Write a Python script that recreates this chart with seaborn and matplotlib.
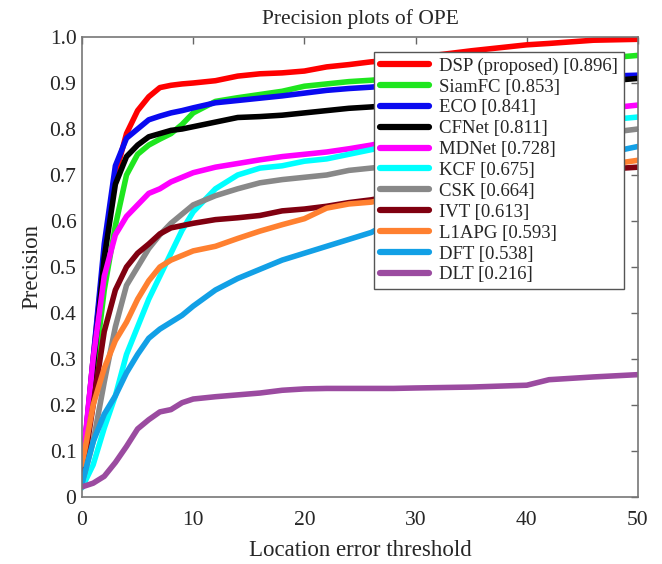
import numpy as np
import pandas as pd
import matplotlib
matplotlib.use("Agg")
import matplotlib.pyplot as plt
import seaborn as sns

# ---- data ----
thresholds = [0, 1, 2, 3, 4, 5, 6, 7, 8, 9, 10, 12, 14, 16, 18, 20, 22, 24, 26, 28, 30, 35, 40, 42, 46, 50]

trackers = ["DSP (proposed) [0.896]", "SiamFC [0.853]", "ECO [0.841]", "CFNet [0.811]",
            "MDNet [0.728]", "KCF [0.675]", "CSK [0.664]", "IVT [0.613]",
            "L1APG [0.593]", "DFT [0.538]", "DLT [0.216]"]

dsp = [0.05, 0.30, 0.53, 0.70, 0.79, 0.84, 0.87, 0.89, 0.895, 0.898, 0.900, 0.905, 0.915, 0.920, 0.922,
       0.926, 0.935, 0.940, 0.946, 0.950, 0.955, 0.970, 0.983, 0.986, 0.993, 0.995]
siamfc = [0.04, 0.25, 0.45, 0.59, 0.70, 0.745, 0.765, 0.778, 0.79, 0.81, 0.835, 0.86, 0.868, 0.875, 0.882,
          0.893, 0.898, 0.903, 0.906, 0.910, 0.915, 0.930, 0.940, 0.944, 0.952, 0.960]
eco = [0.05, 0.30, 0.55, 0.72, 0.78, 0.80, 0.82, 0.828, 0.835, 0.840, 0.846, 0.857, 0.862, 0.867, 0.872,
       0.878, 0.884, 0.888, 0.891, 0.895, 0.898, 0.905, 0.910, 0.911, 0.914, 0.917]
cfnet = [0.04, 0.28, 0.52, 0.68, 0.74, 0.765, 0.783, 0.790, 0.797, 0.800, 0.805, 0.815, 0.825, 0.827, 0.830,
         0.835, 0.840, 0.845, 0.848, 0.852, 0.860, 0.875, 0.890, 0.894, 0.902, 0.910]
mdnet = [0.06, 0.30, 0.48, 0.57, 0.61, 0.635, 0.66, 0.67, 0.685, 0.695, 0.705, 0.717, 0.725, 0.733, 0.740,
         0.745, 0.750, 0.757, 0.765, 0.775, 0.785, 0.805, 0.825, 0.831, 0.842, 0.852]
kcf = [0.02, 0.07, 0.15, 0.22, 0.31, 0.37, 0.43, 0.48, 0.53, 0.58, 0.62, 0.67, 0.70, 0.715, 0.720,
       0.730, 0.735, 0.745, 0.755, 0.765, 0.775, 0.790, 0.805, 0.809, 0.817, 0.826]
csk = [0.03, 0.12, 0.25, 0.37, 0.46, 0.50, 0.54, 0.57, 0.595, 0.615, 0.635, 0.655, 0.670, 0.683, 0.690,
       0.695, 0.700, 0.710, 0.715, 0.720, 0.730, 0.750, 0.770, 0.776, 0.788, 0.800]
ivt = [0.04, 0.20, 0.36, 0.45, 0.50, 0.53, 0.55, 0.572, 0.585, 0.590, 0.595, 0.603, 0.607, 0.612, 0.622,
       0.626, 0.632, 0.640, 0.646, 0.655, 0.665, 0.685, 0.700, 0.704, 0.711, 0.717]
l1apg = [0.07, 0.20, 0.28, 0.34, 0.38, 0.43, 0.47, 0.50, 0.515, 0.525, 0.535, 0.545, 0.562, 0.578, 0.592,
         0.605, 0.628, 0.637, 0.641, 0.650, 0.660, 0.680, 0.700, 0.706, 0.718, 0.732]
dft = [0.03, 0.12, 0.18, 0.22, 0.27, 0.31, 0.345, 0.365, 0.38, 0.395, 0.415, 0.45, 0.475, 0.495, 0.515,
       0.530, 0.545, 0.560, 0.575, 0.600, 0.625, 0.670, 0.710, 0.722, 0.742, 0.762]
dlt = [0.022, 0.03, 0.045, 0.075, 0.11, 0.148, 0.168, 0.185, 0.19, 0.205, 0.213, 0.218, 0.222, 0.226, 0.232,
       0.235, 0.236, 0.236, 0.236, 0.236, 0.237, 0.239, 0.243, 0.255, 0.261, 0.266]

colors = ["#ff0000", "#1ee61e", "#0a0af0", "#000000", "#ff00ff", "#00ffff",
          "#888888", "#800010", "#ff8030", "#12a0e6", "#9b4ba0"]

series = [dsp, siamfc, eco, cfnet, mdnet, kcf, csk, ivt, l1apg, dft, dlt]

frames = []
for name, vals in zip(trackers, series):
    frames.append(pd.DataFrame({"threshold": thresholds, "precision": vals, "tracker": name}))
df = pd.concat(frames, ignore_index=True)

# ---- plot ----
sns.set_style("white")
plt.rcParams["font.family"] = ["Liberation Serif", "DejaVu Serif"]

fig = plt.figure(figsize=(6.62, 5.64), dpi=100)
ax = fig.add_axes([0.1239, 0.1188, 0.8398, 0.8156])

sns.lineplot(data=df, x="threshold", y="precision", hue="tracker", hue_order=trackers,
             palette=dict(zip(trackers, colors)), estimator=None, sort=False,
             linewidth=4, ax=ax)

ax.set_xlim(0, 50)
ax.set_ylim(0, 1)
ax.set_xticks([0, 10, 20, 30, 40, 50])
ax.set_yticks(np.round(np.arange(0, 1.01, 0.1), 1))
ax.set_yticklabels(["0"] + [f"{v:.1f}" for v in np.arange(0.1, 1.01, 0.1)])
ax.tick_params(direction="in", length=5, width=1, color="#666666", labelsize=15.5,
               top=True, right=True)
ax.tick_params(axis="x", pad=10)
ax.tick_params(axis="y", pad=4)
for s in ax.spines.values():
    s.set_color("#777777")
    s.set_linewidth(1.2)

ax.set_xlabel("Location error threshold", fontsize=16.5, labelpad=7)
ax.set_ylabel("Precision", fontsize=16.5, labelpad=5)
ax.set_title("Precision plots of OPE", fontsize=15.5, pad=9)

handles, labels = ax.get_legend_handles_labels()
leg = ax.legend(handles, labels, loc="upper right", bbox_to_anchor=(0.974, 0.968),
                fontsize=13.5, frameon=True, fancybox=False, framealpha=1.0,
                handlelength=2.6, handletextpad=0.55, labelspacing=0.2,
                borderpad=0.3, borderaxespad=0)
leg.get_frame().set_edgecolor("#555555")
leg.get_frame().set_linewidth(1.0)
for h in leg.get_lines():
    h.set_linewidth(4.5)

fig.savefig("out.png", dpi=100)
